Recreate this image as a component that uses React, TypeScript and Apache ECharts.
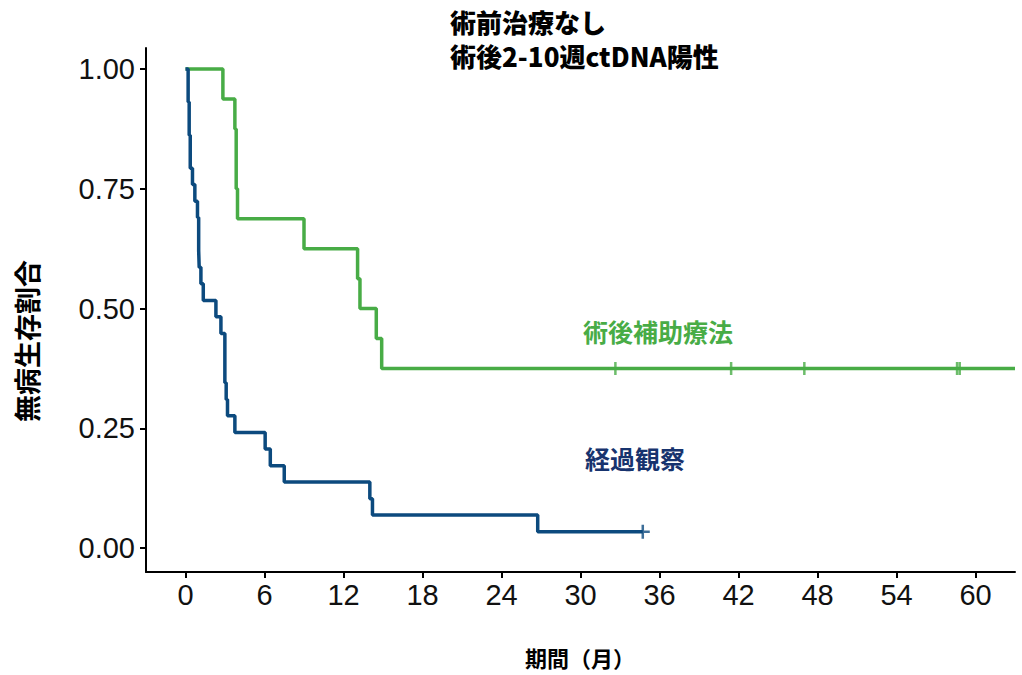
import React, { useEffect, useRef } from "react";
import * as echarts from "echarts";

// Kaplan–Meier: 術後補助療法 (green)
const adjTimes = [0, 2.84, 3.75, 3.85, 3.95, 9.0, 13.07, 13.25, 14.49, 14.9, 63];
const adjSurv = [1, 0.9375, 0.875, 0.75, 0.6875, 0.625, 0.5625, 0.5, 0.4375, 0.375, 0.375];
const adjCensor = [32.65, 41.44, 47.0, 58.6, 58.8];
const adjCensorSurv = [0.375, 0.375, 0.375, 0.375, 0.375];

// Kaplan–Meier: 経過観察 (blue)
const obsTimes = [0, 0.2, 0.28, 0.36, 0.53, 0.71, 0.91, 1.0, 1.04, 1.17, 1.35, 2.31, 2.69, 2.99, 3.09, 3.19, 3.75, 6.05, 6.44, 7.5, 14.0, 14.2, 26.75, 34.73];
const obsSurv = [1, 0.931, 0.862, 0.793, 0.759, 0.724, 0.69, 0.621, 0.586, 0.552, 0.517, 0.483, 0.448, 0.345, 0.31, 0.276, 0.241, 0.207, 0.172, 0.138, 0.103, 0.069, 0.034, 0.034];
const obsCensor = [34.73];
const obsCensorSurv = [0.034];

const xTicks = [0, 6, 12, 18, 24, 30, 36, 42, 48, 54, 60];
const yTicks = [0, 0.25, 0.5, 0.75, 1.0];

const titleLines = ["術前治療なし", "術後2-10週ctDNA陽性"];
const yName = "無病生存割合";
const xName = "期間（月）";
const adjName = "術後補助療法";
const obsName = "経過観察";

const GREEN = "#48AC46";
const BLUE = "#0C4A7E";
const CJK = "'Noto Sans CJK JP', 'Noto Sans CJK SC', sans-serif";
const LAT = "'Liberation Sans', Arial, sans-serif";
const CROSS = "path://M5 0 L5 10 M0 5 L10 5";

export default function App() {
  const ref = useRef<HTMLDivElement>(null);
  useEffect(() => {
    if (!ref.current) return;
    const chart = echarts.init(ref.current, null, { renderer: "svg" });
    const zip = (a: number[], b: number[]) => a.map((v, i) => [v, b[i]]);
    chart.setOption({
      animation: false,
      backgroundColor: "#ffffff",
      grid: { left: 146, right: 7, top: 48, bottom: 103, containLabel: false },
      xAxis: {
        type: "value",
        min: -3,
        max: 63,
        axisLine: { show: true, onZero: false, lineStyle: { color: "#000", width: 2 } },
        axisTick: { show: true, length: 6, lineStyle: { color: "#000", width: 2 }, customValues: xTicks },
        axisLabel: { show: true, margin: 8, fontSize: 29, color: "#111", fontFamily: LAT, customValues: xTicks },
        splitLine: { show: false },
      },
      yAxis: {
        type: "value",
        min: -0.05,
        max: 1.044,
        axisLine: { show: true, onZero: false, lineStyle: { color: "#000", width: 2 } },
        axisTick: { show: true, length: 6, lineStyle: { color: "#000", width: 2 }, customValues: yTicks },
        axisLabel: {
          show: true,
          margin: 11,
          fontSize: 29,
          color: "#111",
          fontFamily: LAT,
          customValues: yTicks,
          formatter: (v: number) => v.toFixed(2),
        },
        splitLine: { show: false },
      },
      series: [
        {
          type: "line",
          name: adjName,
          step: "end",
          showSymbol: false,
          data: zip(adjTimes, adjSurv),
          lineStyle: { color: GREEN, width: 3.5 },
          itemStyle: { color: GREEN },
          z: 2,
        },
        {
          type: "line",
          name: obsName,
          step: "end",
          showSymbol: false,
          data: zip(obsTimes, obsSurv),
          lineStyle: { color: BLUE, width: 3.5 },
          itemStyle: { color: BLUE },
          z: 3,
        },
        {
          type: "scatter",
          symbol: CROSS,
          symbolSize: 13,
          data: zip(adjCensor, adjCensorSurv),
          itemStyle: { color: "rgba(0,0,0,0)", borderColor: GREEN, borderWidth: 2.5 },
          z: 4,
        },
        {
          type: "scatter",
          symbol: CROSS,
          symbolSize: 14,
          data: zip(obsCensor, obsCensorSurv),
          itemStyle: { color: "rgba(0,0,0,0)", borderColor: BLUE, borderWidth: 2.5 },
          z: 4,
        },
      ],
      graphic: [
        {
          type: "text",
          left: 450,
          top: 8,
          style: { text: titleLines[0], fontSize: 26, fontWeight: 900, fontFamily: CJK, fill: "#000" },
        },
        {
          type: "text",
          left: 450,
          top: 42,
          style: { text: titleLines[1], fontSize: 26, fontWeight: 900, fontFamily: CJK, fill: "#000" },
        },
        {
          type: "text",
          x: 26,
          y: 341,
          rotation: Math.PI / 2,
          style: {
            text: yName,
            fontSize: 27,
            fontWeight: "bold",
            fontFamily: CJK,
            fill: "#000",
            align: "center",
            verticalAlign: "middle",
          },
        },
        {
          type: "text",
          x: 580,
          y: 657,
          style: {
            text: xName,
            fontSize: 22,
            fontWeight: "bold",
            fontFamily: CJK,
            fill: "#000",
            align: "center",
            verticalAlign: "middle",
          },
        },
        {
          type: "text",
          x: 658,
          y: 331,
          style: {
            text: adjName,
            fontSize: 25,
            fontWeight: "bold",
            fontFamily: CJK,
            fill: GREEN,
            align: "center",
            verticalAlign: "middle",
          },
        },
        {
          type: "text",
          x: 635,
          y: 458,
          style: {
            text: obsName,
            fontSize: 25,
            fontWeight: "bold",
            fontFamily: CJK,
            fill: "#17336E",
            align: "center",
            verticalAlign: "middle",
          },
        },
      ],
    });
    return () => chart.dispose();
  }, []);
  return (
    <div
      ref={ref}
      style={{ position: "absolute", left: 0, top: 0, width: 1022, height: 675 }}
    />
  );
}
